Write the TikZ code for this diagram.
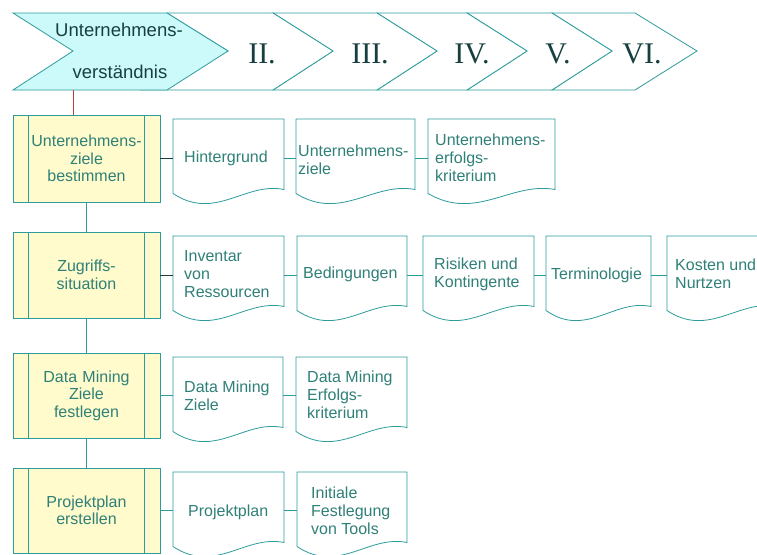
\documentclass[tikz,border=0pt]{standalone}
\usepackage{fontspec}
\setmainfont{Liberation Sans}
\newfontfamily\numeralfont{Liberation Serif}
\usetikzlibrary{calc}

\definecolor{edge}{HTML}{2E9C9C}
\definecolor{ink}{HTML}{2F8078}
\definecolor{darkink}{HTML}{173F3F}
\definecolor{phasefill}{HTML}{CCFAFA}
\definecolor{taskfill}{HTML}{FFFBCC}
\definecolor{linkred}{HTML}{C03A3A}

\tikzset{
  edgeline/.style={draw=edge, line width=0.8pt},
  phase/.style={edgeline, fill=white, line join=miter},
  numeral/.style={font=\numeralfont\fontsize{30}{30}\selectfont, text=darkink, anchor=base, inner sep=0},
  phasetext/.style={font=\fontsize{18.5}{20}\selectfont, text=darkink, anchor=base, inner sep=0},
  taskbox/.style={edgeline, fill=taskfill, minimum width=147pt, text width=112pt,
    align=center, font=\fontsize{16}{17.5}\selectfont, text=ink, inner sep=0, outer sep=0,
    path picture={
      \draw[edge, line width=0.8pt]
        ($(path picture bounding box.north west)+(15.5,0)$) -- ($(path picture bounding box.south west)+(15.5,0)$)
        ($(path picture bounding box.north east)+(-16,0)$) -- ($(path picture bounding box.south east)+(-16,0)$);
    }},
  docframe/.style={minimum height=70.5pt, inner sep=0, outer sep=0, draw=none},
  doctext/.style={font=\fontsize{16}{18}\selectfont, text=ink, align=left, anchor=west, inner sep=0},
  darklink/.style={draw=darkink, line width=0.8pt},
  redlink/.style={draw=linkred, line width=0.8pt},
}

% document symbol: straight top and sides, wavy bottom edge
% #1 name, #2 left, #3 top, #4 width
\newcommand\docshape[4]{%
  \node[docframe, minimum width=#4pt, anchor=north west] (#1) at (#2,#3) {};
  \draw[edgeline, fill=white] (#1.north west) -- (#1.north east) -- (#1.south east)
    .. controls ($(#1.south east)+(-0.35*#4,-8)$) and ($(#1.south east)+(-0.62*#4,32)$)
    .. ($(#1.south west)+(0,4)$) -- cycle;
}

\begin{document}
\begin{tikzpicture}[x=1pt,y=-1pt]
\useasboundingbox (0,0) rectangle (757,554);
\clip (0,0) rectangle (757,554);
\fill[white] (0,0) rectangle (757,554);

% phase bar
\draw[phase] (552,13) -- (635,13) -- (697,51) -- (635,90) -- (552,90) -- (612,51) -- cycle;
\draw[phase] (467,13) -- (552,13) -- (612,51) -- (552,90) -- (467,90) -- (527,51) -- cycle;
\draw[phase] (377,13) -- (467,13) -- (527,51) -- (467,90) -- (377,90) -- (437,51) -- cycle;
\draw[phase] (273,13) -- (377,13) -- (437,51) -- (377,90) -- (273,90) -- (333,51) -- cycle;
\draw[phase] (167,13) -- (273,13) -- (333,51) -- (273,90) -- (142,90) -- (228,51) -- cycle;
\draw[phase, fill=phasefill] (13,13) -- (167,13) -- (228,51) -- (167,90) -- (13,90) -- (73,51) -- cycle;
\coordinate (phaseone) at (73,90);

\node[phasetext] (pa) at (119,36) {Unternehmens-};
\node[phasetext] (pb) at (120,78) {verständnis};
\node[numeral] (n2) at (262,63) {II.};
\node[numeral] (n3) at (370,63) {III.};
\node[numeral] (n4) at (472,63) {IV.};
\node[numeral] (n5) at (558,63) {V.};
\node[numeral] (n6) at (642,63) {VI.};

% tasks
\node[taskbox, minimum height=87pt] (t1) at (86.5,158.5) {Unternehmens-\\ziele\\bestimmen};
\node[taskbox, minimum height=86pt] (t2) at (86.5,275) {Zugriffs-\\situation};
\node[taskbox, minimum height=85pt] (t3) at (86.5,395.5) {Data Mining\\Ziele\\festlegen};
\node[taskbox, minimum height=85pt] (t4) at (86.5,510.5) {Projektplan\\erstellen};

% outputs, row 1
\docshape{a1}{173}{119}{111}
\docshape{a2}{296}{119}{119}
\docshape{a3}{428}{119}{127}
\node[doctext] (ta1) at (184,158) {Hintergrund};
\node[doctext] (ta2) at (298,159.5) {Unternehmens-\\ziele};
\node[doctext] (ta3) at (435,158) {Unternehmens-\\erfolgs-\\kriterium};

% outputs, row 2
\docshape{b1}{173}{236}{111}
\docshape{b2}{297}{236}{110}
\docshape{b3}{423}{236}{111}
\docshape{b4}{546}{236}{105}
\docshape{b5}{667}{236}{111}
\node[doctext] (tb1) at (184,274) {Inventar\\von\\Ressourcen};
\node[doctext] (tb2) at (303,274) {Bedingungen};
\node[doctext] (tb3) at (434,274.5) {Risiken und\\Kontingente};
\node[doctext] (tb4) at (551,275) {Terminologie};
\node[doctext] (tb5) at (675,274) {Kosten und\\Nurtzen};

% outputs, row 3
\docshape{c1}{173}{357}{110}
\docshape{c2}{296}{357}{111}
\node[doctext] (tc1) at (184,396) {Data Mining\\Ziele};
\node[doctext] (tc2) at (307,395) {Data Mining\\Erfolgs-\\kriterium};

% outputs, row 4
\docshape{d1}{173}{472}{111}
\docshape{d2}{297}{472}{110}
\node[doctext] (td1) at (188,512) {Projektplan};
\node[doctext] (td2) at (311,511) {Initiale\\Festlegung\\von Tools};

% vertical flow
\draw[redlink] (phaseone) -- (phaseone |- t1.north);
\draw[edgeline] (t1.south) -- (t2.north);
\draw[edgeline] (t2.south) -- (t3.north);
\draw[edgeline] (t3.south) -- (t4.north);

% row links
\draw[darklink] (t1.east) -- (t1.east -| a1.west);
\draw[edgeline] (a1.east |- t1.east) -- (a2.west |- t1.east);
\draw[edgeline] (a2.east |- t1.east) -- (a3.west |- t1.east);

\draw[darklink] (t2.east) -- (t2.east -| b1.west);
\draw[edgeline] (b1.east |- t2.east) -- (b2.west |- t2.east);
\draw[edgeline] (b2.east |- t2.east) -- (b3.west |- t2.east);
\draw[edgeline] (b3.east |- t2.east) -- (b4.west |- t2.east);
\draw[edgeline] (b4.east |- t2.east) -- (b5.west |- t2.east);

\draw[edgeline] (t3.east) -- (t3.east -| c1.west);
\draw[edgeline] (c1.east |- t3.east) -- (c2.west |- t3.east);

\draw[edgeline] (t4.east) -- (t4.east -| d1.west);
\draw[edgeline] (d1.east |- t4.east) -- (d2.west |- t4.east);
\end{tikzpicture}
\end{document}
